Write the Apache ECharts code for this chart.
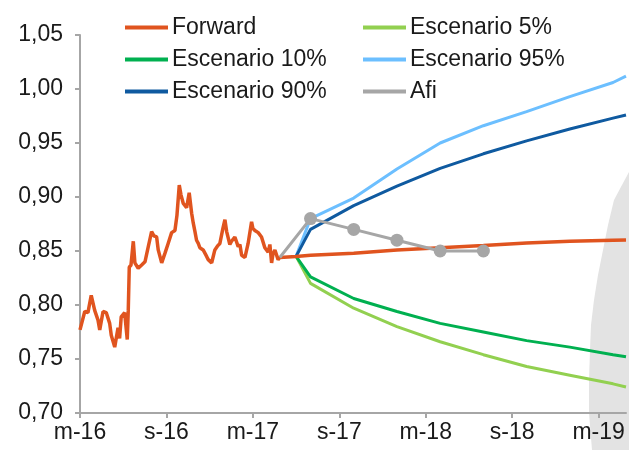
<!DOCTYPE html>
<html>
<head>
<meta charset="utf-8">
<script src="https://cdn.jsdelivr.net/npm/echarts@6/dist/echarts.min.js"></script>
<style>
html,body{margin:0;padding:0;background:#fff;}
#chart{width:629px;height:450px;}
</style>
</head>
<body>
<div id="chart"></div>
<script>
// x values are months since March 2016
var xTickLabels = ['m-16', 's-16', 'm-17', 's-17', 'm-18', 's-18', 'm-19'];

// Historical spot (month, value)
var histMonths = [0,0.33,0.55,0.78,1.02,1.25,1.37,1.60,1.82,2.06,2.17,2.41,2.64,2.75,2.86,3.10,3.28,3.35,3.42,3.54,3.70,3.81,4.04,4.28,4.51,4.74,4.97,5.13,5.32,5.43,5.67,5.90,6.12,6.36,6.59,6.73,6.89,7.01,7.17,7.28,7.40,7.58,7.75,7.86,7.98,8.09,8.21,8.32,8.55,8.79,8.90,9.14,9.23,9.36,9.57,9.71,9.92,10.06,10.18,10.29,10.40,10.52,10.75,10.98,11.10,11.22,11.45,11.67,11.91,12.00,12.14,12.37,12.60,12.83,13.06,13.18,13.30,13.39,13.53,13.75,13.87];
var histValues = [0.777,0.794,0.793,0.809,0.795,0.786,0.777,0.794,0.793,0.783,0.772,0.761,0.779,0.769,0.789,0.793,0.768,0.795,0.835,0.837,0.859,0.839,0.834,0.837,0.840,0.854,0.868,0.864,0.863,0.851,0.839,0.848,0.857,0.867,0.869,0.883,0.911,0.902,0.894,0.893,0.890,0.904,0.885,0.876,0.868,0.860,0.857,0.853,0.851,0.845,0.842,0.839,0.844,0.851,0.855,0.857,0.871,0.879,0.868,0.867,0.856,0.859,0.863,0.854,0.856,0.846,0.844,0.857,0.877,0.871,0.869,0.867,0.863,0.853,0.849,0.856,0.839,0.847,0.851,0.842,0.844];

// Forward and scenarios (months)
var fcMonths = [13.87, 15, 16, 19, 22, 25, 28, 31, 34, 37, 37.9];
var forwardValues = [0.844, 0.845, 0.846, 0.848, 0.851, 0.853, 0.855, 0.8575, 0.859, 0.860, 0.8603];
var scenMonths = [15, 16, 19, 22, 25, 28, 31, 34, 37, 37.9];
var esc5 =  [0.845, 0.820, 0.797, 0.780, 0.766, 0.754, 0.743, 0.735, 0.727, 0.724];
var esc10 = [0.845, 0.826, 0.806, 0.794, 0.783, 0.775, 0.767, 0.761, 0.754, 0.752];
var esc90 = [0.845, 0.870, 0.892, 0.910, 0.9265, 0.940, 0.952, 0.963, 0.973, 0.976];
var esc95 = [0.845, 0.880, 0.899, 0.926, 0.950, 0.966, 0.979, 0.993, 1.006, 1.012];

// Afi forecast
var afiMonths = [13.87, 16, 19, 22, 25, 28];
var afiValues = [0.844, 0.88, 0.87, 0.86, 0.85, 0.85];

function zip(xs, ys) { return xs.map(function (x, i) { return [x, ys[i]]; }); }

var FONT = '"Liberation Sans", Arial, sans-serif';
var TXT = '#1a1a1a';
var AX = '#a6a6a6';

var forwardData = zip(histMonths, histValues).concat(zip(fcMonths, forwardValues).slice(1));

var chart = echarts.init(document.getElementById('chart'));
var legendCommon = {
  orient: 'vertical', top: 11, itemWidth: 43, itemHeight: 4, itemGap: 9,
  icon: 'rect',
  textStyle: { fontFamily: FONT, fontSize: 23, color: TXT, padding: [0, 0, 0, -1] }
};
chart.setOption({
  animation: false,
  backgroundColor: '#fff',
  textStyle: { fontFamily: FONT },
  grid: { left: 80, right: 3, top: 35, bottom: 37, containLabel: false },
  legend: [
    Object.assign({ left: 120, data: ['Forward', 'Escenario 10%', 'Escenario 90%'] }, legendCommon),
    Object.assign({ left: 358, data: ['Escenario 5%', 'Escenario 95%', 'Afi'] }, legendCommon)
  ],
  graphic: [{
    type: 'polygon', z: -10, silent: true,
    shape: { points: [[629, 172], [622, 185], [614, 200], [608, 225], [603, 250], [598, 275], [594, 300], [591, 325], [590, 350], [589, 380], [589, 413], [592, 450], [629, 450]] },
    style: { fill: '#e3e3e3' }
  }],
  xAxis: {
    type: 'value', min: 0, max: 37.9, interval: 6,
    axisLine: { lineStyle: { color: AX, width: 2 } },
    axisTick: { length: 5, lineStyle: { color: AX, width: 2 } },
    splitLine: { show: false },
    axisLabel: {
      showMaxLabel: false, margin: 8, fontFamily: FONT, fontSize: 23, color: TXT,
      formatter: function (v) { return (v % 6 === 0) ? xTickLabels[v / 6] : ''; }
    }
  },
  yAxis: {
    type: 'value', min: 0.70, max: 1.05, interval: 0.05,
    axisLine: { show: true, lineStyle: { color: AX, width: 2 } },
    axisTick: { show: true, length: 5, lineStyle: { color: AX, width: 2 } },
    splitLine: { show: false },
    axisLabel: {
      margin: 17, fontFamily: FONT, fontSize: 23, color: TXT,
      formatter: function (v) { return v.toFixed(2).replace('.', ','); }
    }
  },
  series: [
    { name: 'Forward', type: 'line', data: forwardData, symbol: 'none', z: 5,
      itemStyle: { color: '#e0541f' }, lineStyle: { color: '#e0541f', width: 3.5 } },
    { name: 'Escenario 5%', type: 'line', data: zip(scenMonths, esc5), symbol: 'none', z: 3,
      itemStyle: { color: '#92d050' }, lineStyle: { color: '#92d050', width: 3 } },
    { name: 'Escenario 10%', type: 'line', data: zip(scenMonths, esc10), symbol: 'none', z: 3,
      itemStyle: { color: '#00b050' }, lineStyle: { color: '#00b050', width: 3 } },
    { name: 'Escenario 95%', type: 'line', data: zip(scenMonths, esc95), symbol: 'none', z: 3,
      itemStyle: { color: '#6cbfff' }, lineStyle: { color: '#6cbfff', width: 3 } },
    { name: 'Escenario 90%', type: 'line', data: zip(scenMonths, esc90), symbol: 'none', z: 3,
      itemStyle: { color: '#0f5aa0' }, lineStyle: { color: '#0f5aa0', width: 3 } },
    { name: 'Afi', type: 'line', data: zip(afiMonths, afiValues), z: 6,
      symbol: function (v, p) { return p.dataIndex === 0 ? 'none' : 'circle'; }, symbolSize: 13,
      showAllSymbol: true,
      itemStyle: { color: '#a6a6a6' }, lineStyle: { color: '#a6a6a6', width: 3 } }
  ]
});
</script>
</body>
</html>
